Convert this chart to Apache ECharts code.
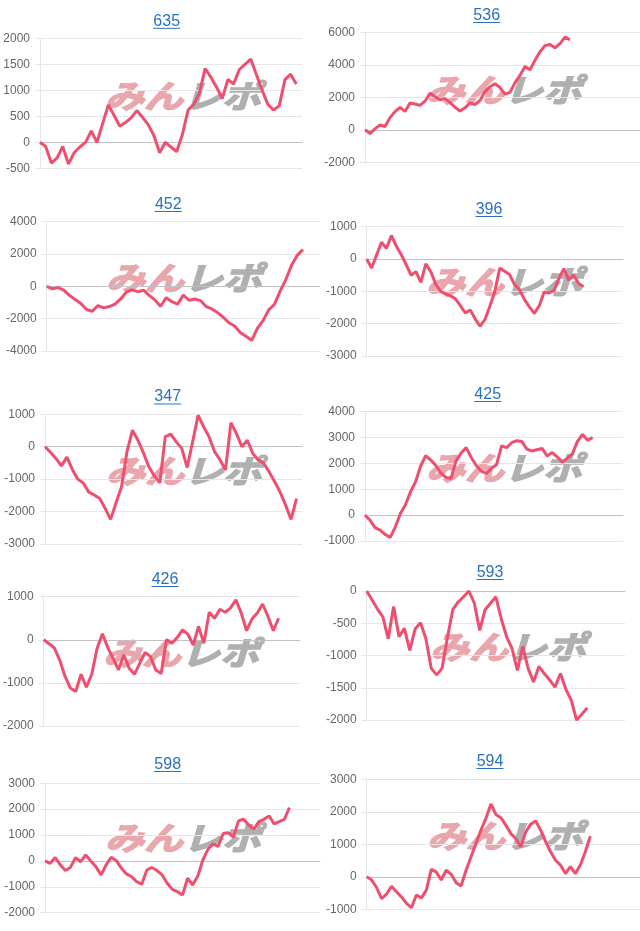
<!DOCTYPE html>
<html>
<head>
<meta charset="utf-8">
<script src="https://cdn.jsdelivr.net/npm/echarts@6/dist/echarts.min.js"></script>
<style>
  html, body { margin: 0; background: #fff; }
  #chart { width: 640px; height: 931px; }
</style>
</head>
<body>
<div id="chart"></div>
<script>
// machine numbers (panel titles)
const titles = ["635", "536", "452", "396", "347", "425", "426", "593", "598", "594"];

// diff values per machine
const data635 = [0, -80, -400, -300, -80, -420, -200, -90, 0, 220, 0, 360, 720, 520, 310, 380, 470, 610, 480, 340, 130, -200, 0, -90, -180, 150, 620, 730, 950, 1420, 1250, 1060, 840, 1210, 1120, 1400, 1500, 1600, 1300, 1000, 730, 620, 700, 1200, 1310, 1120];
const data536 = [0, -230, 60, 300, 200, 750, 1120, 1380, 1130, 1650, 1590, 1500, 1760, 2240, 2050, 1850, 1920, 1670, 1400, 1150, 1350, 1650, 1560, 1800, 2350, 2650, 2830, 2600, 2200, 2300, 2900, 3350, 3900, 3700, 4280, 4800, 5180, 5250, 5050, 5300, 5700, 5540];
const data452 = [0, -150, -80, -230, -560, -820, -1060, -1430, -1540, -1190, -1330, -1250, -1100, -780, -350, -220, -330, -240, -560, -840, -1230, -700, -950, -1100, -540, -860, -780, -880, -1250, -1400, -1620, -1910, -2250, -2450, -2850, -3090, -3340, -2600, -2120, -1450, -1120, -300, 420, 1300, 1920, 2270];
const data396 = [0, -280, 120, 520, 330, 730, 400, 140, -170, -500, -390, -720, -150, -390, -780, -1000, -1080, -1140, -1230, -1440, -1670, -1580, -1850, -2080, -1870, -1450, -1000, -280, -380, -480, -790, -950, -1250, -1480, -1680, -1450, -1020, -1050, -980, -600, -300, -650, -500, -760, -860];
const data347 = [0, -170, -360, -590, -320, -700, -1000, -1120, -1400, -1490, -1600, -1900, -2240, -1730, -1230, -150, 510, 200, -190, -620, -900, -1110, 310, 390, 150, -50, -640, 150, 970, 620, 310, -150, -400, -720, 740, 410, 0, 200, -210, -410, -510, -780, -1080, -1400, -1800, -2240, -1600];
const data425 = [0, -200, -480, -580, -750, -860, -450, 60, 400, 900, 1290, 1900, 2300, 2130, 1920, 1620, 1460, 1420, 2100, 2400, 2610, 2230, 1920, 1700, 1610, 1810, 1950, 2680, 2610, 2800, 2880, 2850, 2550, 2480, 2530, 2580, 2290, 2420, 2250, 2050, 2200, 2380, 2850, 3120, 2900, 3000];
const data426 = [0, -90, -190, -470, -850, -1120, -1200, -800, -1100, -800, -200, 140, -180, -430, -700, -350, -660, -800, -540, -290, -390, -700, -780, 0, -80, 50, 230, 130, -120, 310, -80, 640, 500, 710, 640, 740, 930, 620, 210, 480, 620, 830, 540, 210, 500];
const data593 = [0, -140, -280, -400, -740, -240, -710, -580, -920, -590, -490, -740, -1200, -1300, -1200, -720, -290, -170, -90, 0, -190, -610, -290, -190, -90, -430, -710, -890, -1230, -860, -1200, -1410, -1170, -1280, -1380, -1490, -1280, -1520, -1690, -2000, -1910, -1810];
const data598 = [0, -90, 130, -150, -370, -250, 130, -30, 230, 0, -220, -540, -150, 140, 10, -280, -500, -610, -800, -900, -350, -250, -370, -540, -860, -1100, -1190, -1320, -670, -930, -580, 40, 450, 660, 560, 1060, 1090, 920, 1550, 1610, 1390, 1230, 1520, 1610, 1740, 1430, 1520, 1610, 2060];
const data594 = [0, -100, -330, -670, -530, -290, -460, -620, -820, -950, -560, -650, -410, 230, 150, -100, 200, 80, -180, -280, 200, 620, 1030, 1440, 1800, 2240, 1920, 1820, 1590, 1330, 1180, 920, 1380, 1620, 1720, 1440, 1080, 770, 510, 360, 100, 310, 100, 360, 770, 1250];

const panelData = [data635, data536, data452, data396, data347, data425, data426, data593, data598, data594];

// y axis ticks per panel
const yMins = [-500, -2000, -4000, -3000, -3000, -1000, -2000, -2000, -2000, -1000];
const yMaxs = [2000, 6000, 4000, 1000, 1000, 4000, 1000, 0, 3000, 3000];
const ySteps = [500, 2000, 2000, 1000, 1000, 1000, 1000, 500, 1000, 1000];
// number of slots on the hidden x axis of each graph
const slotCounts = [47, 56, 49, 53, 48, 52, 49, 49, 55, 56];

// layout: plot boxes [left, top, width, height], title centre [x, y], watermark [left, centreY]
const boxes = [
  [40, 38.3, 262, 130], [365, 32.3, 275, 130],
  [46.7, 221.7, 273.3, 129.3], [366.7, 226.7, 256.3, 129.3],
  [45, 414.3, 257, 129.7], [365, 411.7, 258, 129.3],
  [43, 596.7, 257, 129.3], [366.7, 591, 258.3, 129],
  [45, 783.3, 275, 129.4], [366.7, 779.3, 273.3, 130]
];
const titlePos = [
  [166.7, 21.3], [486.7, 15.5], [168.3, 204.5], [489, 209.5], [167.7, 397],
  [487.7, 394.5], [165, 579.5], [490, 572.5], [167.7, 764.5], [490, 761.5]
];
const markPos = [
  [105, 96], [426, 90], [106, 278], [426, 282], [106, 471],
  [426, 468], [103, 653], [430, 647], [105, 838], [427, 836]
];

const lineColor = "#f04e6e";
const linkColor = "#2a70c2";
const gridColor = "#e6e6e6";

let grid = [], xAxis = [], yAxis = [], series = [], graphic = [];

panelData.forEach((values, i) => {
  const b = boxes[i];
  grid.push({ left: b[0], top: b[1], width: b[2], height: b[3] });
  xAxis.push({
    type: "category",
    gridIndex: i,
    boundaryGap: false,
    data: Array.from({ length: slotCounts[i] }, (_, k) => k + 1),
    axisLabel: { show: false },
    axisTick: { show: false },
    splitLine: { show: false },
    axisLine: { show: true, onZero: true, lineStyle: { color: "#c2c2c2" } }
  });
  yAxis.push({
    type: "value",
    gridIndex: i,
    min: yMins[i],
    max: yMaxs[i],
    interval: ySteps[i],
    axisLine: { show: true, lineStyle: { color: gridColor } },
    axisTick: { show: true, length: 5, lineStyle: { color: gridColor } },
    axisLabel: {
      color: "#666",
      fontSize: 12,
      margin: 10,
      fontFamily: "Liberation Sans",
      formatter: v => String(v)
    },
    splitLine: { show: true, lineStyle: { color: gridColor } }
  });
  series.push({
    type: "line",
    xAxisIndex: i,
    yAxisIndex: i,
    data: values,
    symbol: "none",
    z: 5,
    lineStyle: { color: lineColor, width: 3 }
  });

  // title link with underline
  const t = titlePos[i];
  graphic.push({
    type: "text",
    style: {
      text: titles[i],
      x: t[0],
      y: t[1],
      textAlign: "center",
      textVerticalAlign: "middle",
      fill: linkColor,
      font: "16px 'Liberation Sans'"
    }
  });
  graphic.push({
    type: "line",
    shape: { x1: t[0] - 13.5, y1: t[1] + 7, x2: t[0] + 13.5, y2: t[1] + 7 },
    style: { stroke: linkColor, lineWidth: 1 }
  });

  // site watermark
  const m = markPos[i];
  graphic.push({
    type: "group",
    x: m[0],
    y: m[1],
    scaleX: 1.22,
    z: 1,
    children: [
      {
        type: "text",
        style: { text: "みん", x: 0, y: 0, fill: "#e9a7ad", stroke: "#e9a7ad", lineWidth: 1.5,
          textVerticalAlign: "middle", font: "italic bold 32px 'Noto Sans CJK JP'" }
      },
      {
        type: "text",
        style: { text: "レポ", x: 64, y: 0, fill: "#b0b0b0", stroke: "#b0b0b0", lineWidth: 1.5,
          textVerticalAlign: "middle", font: "italic bold 32px 'Noto Sans CJK JP'" }
      }
    ]
  });
});

let myChart = echarts.init(document.getElementById("chart"));
myChart.setOption({
  animation: false,
  grid: grid,
  xAxis: xAxis,
  yAxis: yAxis,
  series: series,
  graphic: graphic
});
</script>
</body>
</html>
